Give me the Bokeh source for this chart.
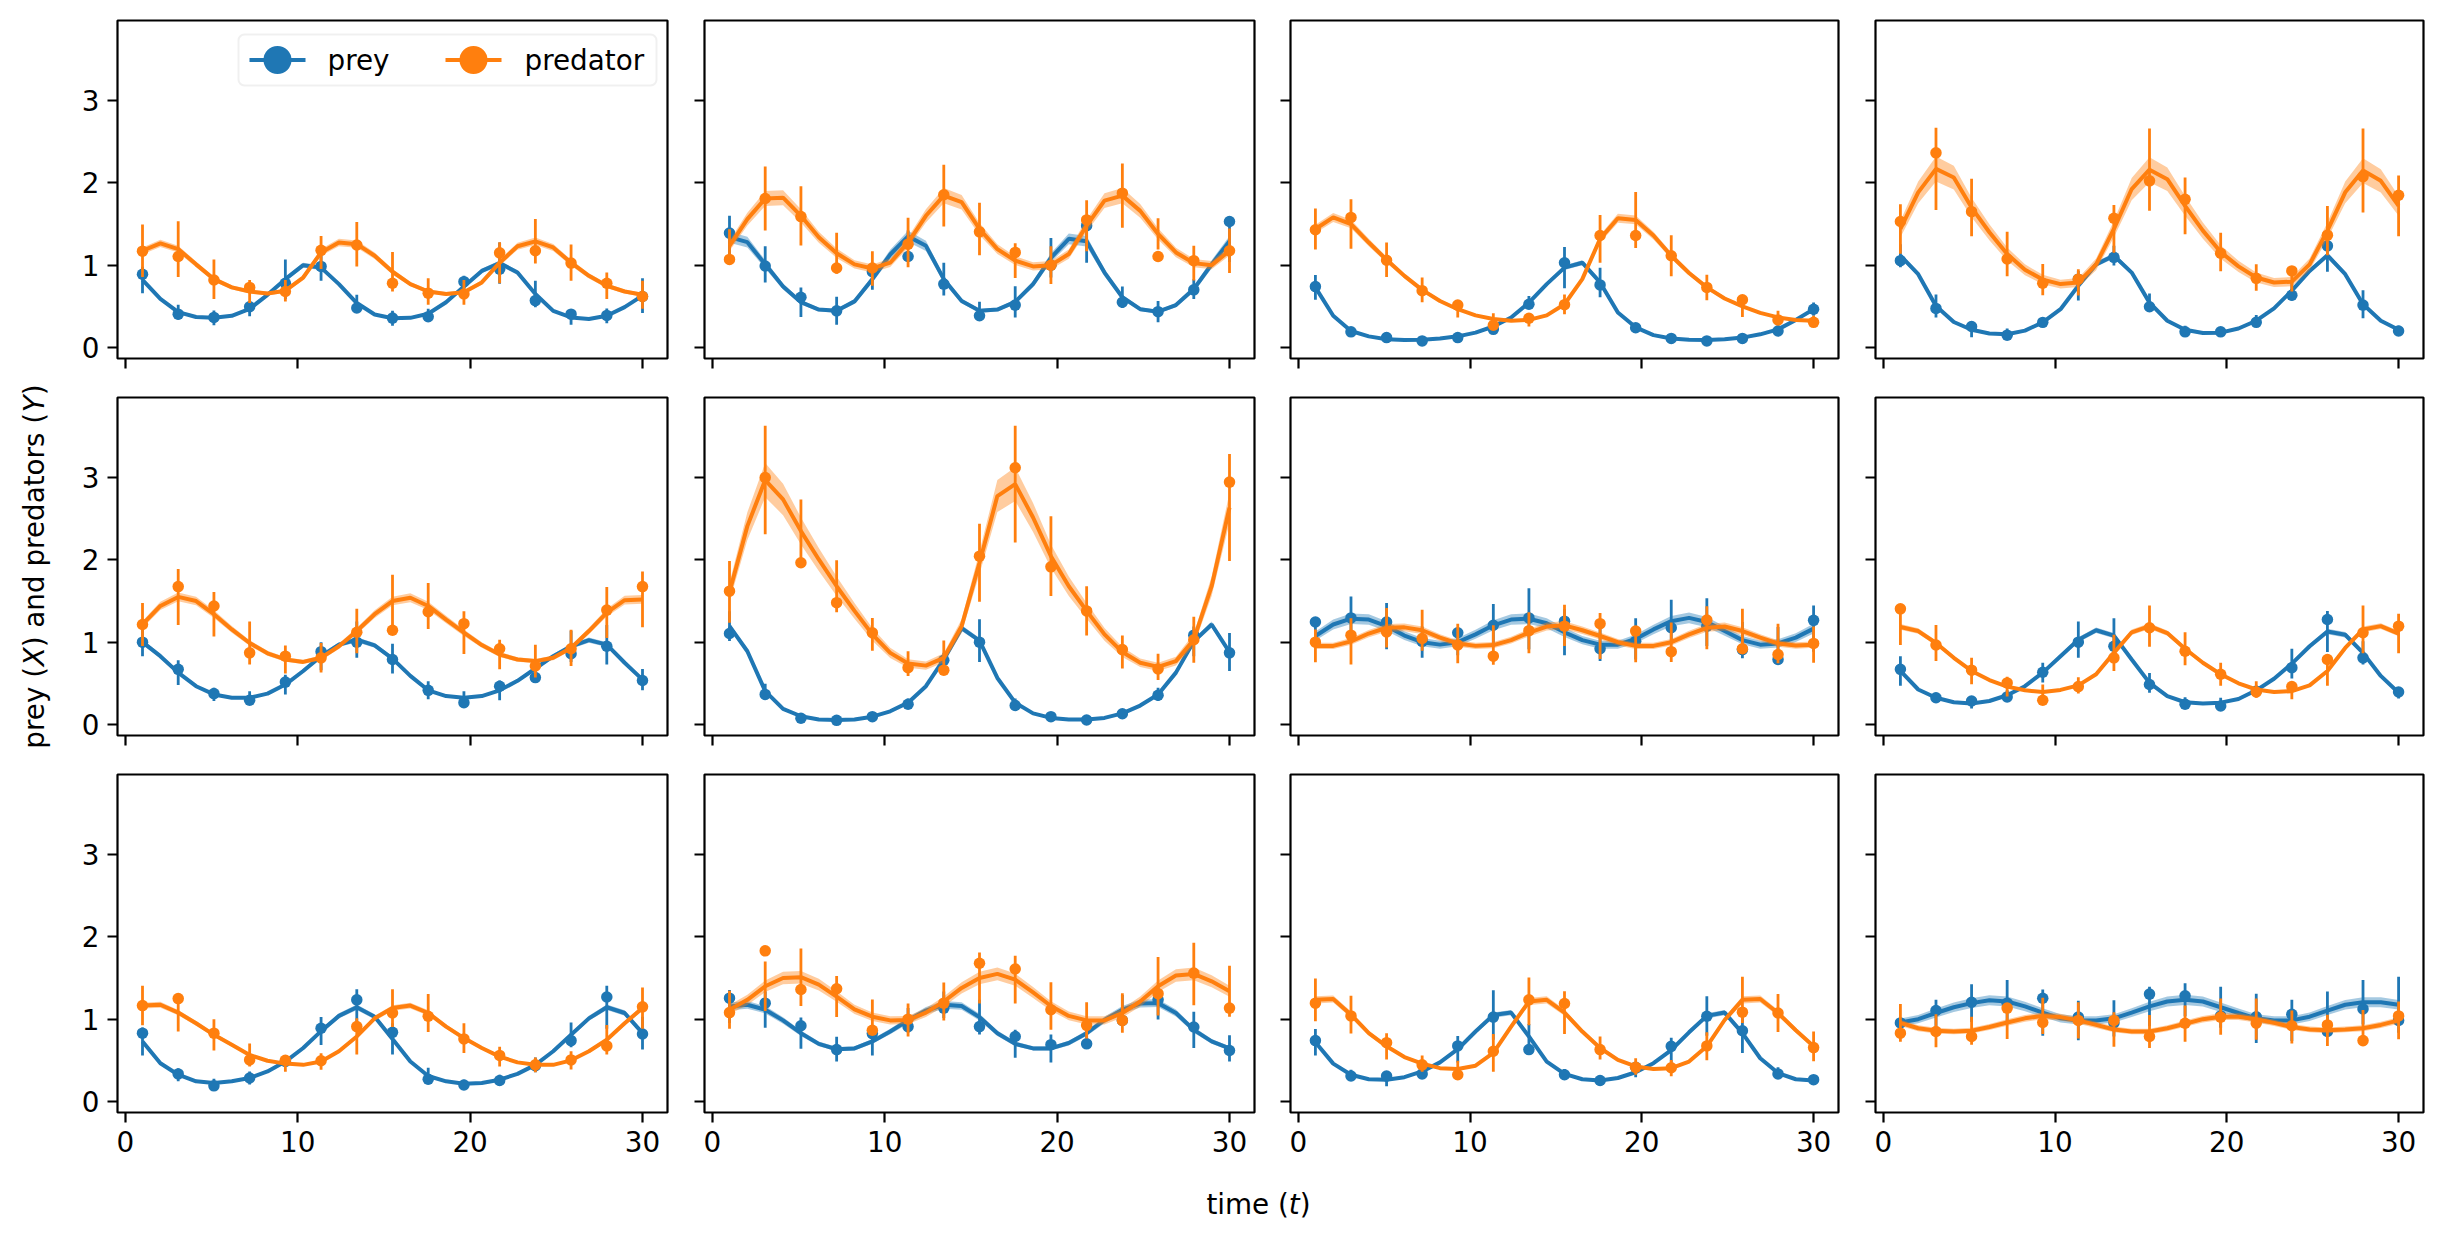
import math
from bokeh.plotting import figure
from bokeh.layouts import gridplot, row, column
from bokeh.models import Range1d, FixedTicker, BoxAnnotation, CustomLabelingPolicy
from bokeh.core.properties import value
from bokeh.embed import file_html
from bokeh.resources import INLINE

BLUE = "#1f77b4"
ORANGE = "#ff7f0e"
FONT = "DejaVu Sans"
FS = "27.8px"

# time grid of the fitted trajectories; observations sit on every other point
t_fit = [1.0, 2.036, 3.071, 4.107, 5.143, 6.179, 7.214, 8.25, 9.286, 10.321,
         11.357, 12.393, 13.429, 14.464, 15.5, 16.536, 17.571, 18.607, 19.643,
         20.679, 21.714, 22.75, 23.786, 24.821, 25.857, 26.893, 27.929, 28.964, 30.0]
t_obs = t_fit[::2]

x_ticks = [0, 10, 20, 30]
y_ticks = [0, 1, 2, 3]

# posterior mean trajectories (prey X), one list per panel
prey_fit = [
    [0.82, 0.59, 0.43, 0.37, 0.36, 0.385, 0.47, 0.64, 0.83, 1.00, 0.97, 0.77, 0.54, 0.40, 0.355, 0.36, 0.41, 0.55, 0.74, 0.93, 1.025, 0.91, 0.65, 0.445, 0.365, 0.345, 0.385, 0.49, 0.63],
    [1.34, 1.28, 1.01, 0.74, 0.55, 0.46, 0.445, 0.56, 0.83, 1.13, 1.35, 1.235, 0.83, 0.565, 0.445, 0.46, 0.555, 0.77, 1.09, 1.32, 1.29, 0.91, 0.61, 0.465, 0.435, 0.515, 0.71, 1.01, 1.29],
    [0.73, 0.385, 0.20, 0.135, 0.10, 0.09, 0.095, 0.11, 0.135, 0.18, 0.255, 0.365, 0.545, 0.77, 0.97, 1.03, 0.79, 0.425, 0.245, 0.15, 0.11, 0.095, 0.09, 0.10, 0.12, 0.16, 0.22, 0.335, 0.465],
    [1.115, 0.89, 0.505, 0.31, 0.215, 0.17, 0.16, 0.205, 0.305, 0.465, 0.75, 1.01, 1.115, 0.91, 0.545, 0.325, 0.215, 0.175, 0.18, 0.23, 0.325, 0.475, 0.69, 0.93, 1.12, 0.89, 0.525, 0.325, 0.215],
    [1.00, 0.83, 0.63, 0.465, 0.365, 0.325, 0.325, 0.375, 0.485, 0.65, 0.83, 0.97, 1.03, 0.96, 0.80, 0.59, 0.415, 0.345, 0.325, 0.345, 0.415, 0.53, 0.68, 0.83, 0.95, 1.025, 0.97, 0.75, 0.545],
    [1.195, 0.89, 0.405, 0.19, 0.10, 0.06, 0.055, 0.06, 0.095, 0.16, 0.265, 0.465, 0.79, 1.17, 1.02, 0.565, 0.265, 0.135, 0.08, 0.06, 0.06, 0.08, 0.135, 0.23, 0.365, 0.63, 1.01, 1.215, 0.88],
    [1.075, 1.215, 1.285, 1.275, 1.195, 1.08, 1.00, 0.97, 1.00, 1.095, 1.205, 1.275, 1.285, 1.23, 1.12, 1.025, 0.97, 0.97, 1.04, 1.155, 1.255, 1.295, 1.245, 1.135, 1.025, 0.97, 0.985, 1.055, 1.165],
    [0.65, 0.425, 0.325, 0.27, 0.255, 0.285, 0.355, 0.465, 0.63, 0.83, 1.03, 1.145, 1.08, 0.79, 0.505, 0.345, 0.27, 0.255, 0.265, 0.31, 0.415, 0.555, 0.74, 0.95, 1.13, 1.09, 0.87, 0.59, 0.385],
    [0.73, 0.465, 0.325, 0.245, 0.225, 0.245, 0.285, 0.365, 0.485, 0.65, 0.855, 1.04, 1.145, 1.03, 0.76, 0.485, 0.31, 0.245, 0.215, 0.225, 0.265, 0.335, 0.445, 0.61, 0.81, 1.01, 1.145, 1.075, 0.83],
    [1.155, 1.175, 1.115, 0.985, 0.83, 0.70, 0.635, 0.645, 0.73, 0.85, 0.985, 1.105, 1.175, 1.16, 1.025, 0.83, 0.70, 0.645, 0.645, 0.71, 0.83, 0.99, 1.115, 1.19, 1.195, 1.075, 0.87, 0.73, 0.645],
    [0.72, 0.46, 0.325, 0.27, 0.265, 0.295, 0.365, 0.475, 0.635, 0.85, 1.05, 1.08, 0.79, 0.485, 0.335, 0.27, 0.255, 0.285, 0.355, 0.465, 0.625, 0.84, 1.04, 1.08, 0.83, 0.525, 0.345, 0.27, 0.255],
    [0.96, 1.00, 1.075, 1.145, 1.195, 1.23, 1.215, 1.155, 1.08, 1.01, 0.985, 0.985, 1.01, 1.08, 1.155, 1.215, 1.235, 1.215, 1.145, 1.075, 1.01, 0.985, 0.985, 1.03, 1.105, 1.175, 1.205, 1.205, 1.175],
]

# posterior mean trajectories (predators Y)
pred_fit = [
    [1.175, 1.265, 1.195, 1.01, 0.83, 0.73, 0.68, 0.655, 0.69, 0.85, 1.155, 1.275, 1.255, 1.115, 0.92, 0.77, 0.68, 0.65, 0.67, 0.79, 1.03, 1.23, 1.29, 1.215, 1.03, 0.87, 0.75, 0.68, 0.64],
    [1.235, 1.56, 1.81, 1.82, 1.60, 1.34, 1.145, 1.01, 0.96, 1.03, 1.275, 1.60, 1.845, 1.765, 1.44, 1.195, 1.055, 0.985, 1.00, 1.135, 1.48, 1.785, 1.845, 1.66, 1.38, 1.155, 1.025, 1.00, 1.175],
    [1.44, 1.58, 1.50, 1.275, 1.065, 0.87, 0.70, 0.565, 0.465, 0.39, 0.345, 0.325, 0.335, 0.39, 0.525, 0.83, 1.32, 1.57, 1.55, 1.36, 1.115, 0.905, 0.73, 0.595, 0.50, 0.42, 0.365, 0.335, 0.325],
    [1.44, 1.885, 2.17, 2.065, 1.70, 1.40, 1.135, 0.945, 0.825, 0.77, 0.79, 1.01, 1.44, 1.925, 2.16, 2.045, 1.72, 1.42, 1.16, 0.985, 0.85, 0.79, 0.80, 1.01, 1.42, 1.885, 2.15, 2.025, 1.72],
    [1.215, 1.44, 1.55, 1.50, 1.34, 1.155, 0.99, 0.865, 0.79, 0.76, 0.81, 0.95, 1.135, 1.34, 1.50, 1.54, 1.44, 1.275, 1.115, 0.965, 0.85, 0.79, 0.77, 0.81, 0.93, 1.135, 1.36, 1.51, 1.52],
    [1.61, 2.41, 2.97, 2.735, 2.35, 2.005, 1.68, 1.38, 1.095, 0.87, 0.74, 0.715, 0.81, 1.195, 1.965, 2.775, 2.92, 2.515, 2.045, 1.68, 1.38, 1.095, 0.88, 0.75, 0.70, 0.77, 1.03, 1.68, 2.635],
    [0.955, 0.955, 1.01, 1.105, 1.175, 1.18, 1.145, 1.055, 0.985, 0.955, 0.965, 1.025, 1.115, 1.19, 1.205, 1.145, 1.075, 1.00, 0.955, 0.955, 1.00, 1.095, 1.175, 1.19, 1.135, 1.055, 0.985, 0.96, 0.97],
    [1.185, 1.135, 0.99, 0.81, 0.65, 0.54, 0.46, 0.415, 0.395, 0.42, 0.475, 0.61, 0.87, 1.12, 1.195, 1.11, 0.92, 0.75, 0.61, 0.50, 0.425, 0.395, 0.405, 0.475, 0.65, 0.93, 1.155, 1.195, 1.105],
    [1.165, 1.175, 1.08, 0.95, 0.81, 0.69, 0.565, 0.495, 0.46, 0.445, 0.485, 0.61, 0.79, 1.01, 1.135, 1.165, 1.075, 0.91, 0.77, 0.65, 0.545, 0.475, 0.445, 0.445, 0.50, 0.61, 0.75, 0.95, 1.135],
    [1.115, 1.235, 1.40, 1.50, 1.51, 1.42, 1.275, 1.12, 1.03, 0.985, 0.99, 1.08, 1.215, 1.38, 1.50, 1.55, 1.48, 1.325, 1.16, 1.04, 0.985, 0.985, 1.075, 1.215, 1.40, 1.53, 1.55, 1.46, 1.34],
    [1.235, 1.245, 1.055, 0.83, 0.67, 0.54, 0.46, 0.405, 0.395, 0.435, 0.59, 0.91, 1.215, 1.235, 1.08, 0.85, 0.65, 0.505, 0.425, 0.395, 0.405, 0.485, 0.67, 0.99, 1.235, 1.245, 1.075, 0.865, 0.67],
    [0.955, 0.89, 0.86, 0.85, 0.86, 0.905, 0.96, 1.01, 1.04, 1.025, 0.985, 0.93, 0.875, 0.85, 0.85, 0.89, 0.945, 1.00, 1.03, 1.03, 1.00, 0.955, 0.905, 0.875, 0.865, 0.875, 0.89, 0.93, 0.985],
]

# noisy observations
prey_obs = [
    [0.89, 0.405, 0.365, 0.495, 0.78, 0.985, 0.48, 0.357, 0.373, 0.80, 0.95, 0.57, 0.405, 0.39, 0.62],
    [1.39, 0.99, 0.61, 0.445, 0.92, 1.105, 0.77, 0.385, 0.515, 1.00, 1.48, 0.55, 0.435, 0.70, 1.53],
    [0.74, 0.19, 0.12, 0.08, 0.12, 0.22, 0.525, 1.03, 0.76, 0.24, 0.11, 0.08, 0.11, 0.20, 0.465],
    [1.055, 0.475, 0.255, 0.15, 0.305, 0.83, 1.095, 0.495, 0.19, 0.19, 0.305, 0.635, 1.235, 0.515, 0.20],
    [1.00, 0.67, 0.375, 0.295, 0.515, 0.885, 1.00, 0.79, 0.415, 0.265, 0.465, 0.57, 0.86, 0.95, 0.535],
    [1.105, 0.365, 0.075, 0.05, 0.095, 0.245, 0.78, 1.00, 0.23, 0.095, 0.055, 0.13, 0.355, 1.085, 0.87],
    [1.245, 1.295, 1.245, 1.01, 1.115, 1.205, 1.295, 1.255, 0.92, 1.01, 1.175, 1.195, 0.91, 0.79, 1.265],
    [0.67, 0.325, 0.285, 0.335, 0.635, 1.00, 0.95, 0.485, 0.245, 0.225, 0.405, 0.69, 1.275, 0.81, 0.395],
    [0.83, 0.335, 0.19, 0.285, 0.485, 0.89, 1.235, 0.84, 0.27, 0.20, 0.255, 0.435, 0.74, 1.27, 0.82],
    [1.255, 1.195, 0.92, 0.63, 0.825, 0.91, 1.135, 0.91, 0.79, 0.69, 0.70, 0.985, 1.235, 0.905, 0.62],
    [0.74, 0.31, 0.31, 0.335, 0.675, 1.025, 0.63, 0.325, 0.255, 0.415, 0.67, 1.035, 0.86, 0.335, 0.265],
    [0.955, 1.105, 1.205, 1.195, 1.255, 1.025, 0.955, 1.305, 1.285, 1.04, 1.03, 1.06, 0.85, 1.125, 0.985],
]
pred_obs = [
    [1.17, 1.105, 0.82, 0.73, 0.68, 1.18, 1.245, 0.78, 0.66, 0.65, 1.15, 1.175, 1.025, 0.78, 0.62],
    [1.07, 1.81, 1.59, 0.965, 0.965, 1.255, 1.855, 1.405, 1.155, 1.00, 1.55, 1.875, 1.105, 1.055, 1.175],
    [1.43, 1.58, 1.06, 0.69, 0.515, 0.27, 0.355, 0.52, 1.36, 1.36, 1.115, 0.73, 0.58, 0.335, 0.305],
    [1.53, 2.365, 1.65, 1.075, 0.78, 0.83, 1.57, 2.025, 1.80, 1.145, 0.84, 0.93, 1.365, 2.075, 1.85],
    [1.215, 1.675, 1.44, 0.87, 0.83, 0.81, 1.12, 1.145, 1.37, 1.225, 0.92, 0.71, 0.92, 1.39, 1.675],
    [1.62, 3.00, 1.965, 1.48, 1.115, 0.69, 0.66, 2.045, 3.12, 1.915, 1.38, 0.91, 0.675, 1.03, 2.945],
    [1.00, 1.085, 1.125, 1.045, 0.965, 0.83, 1.14, 1.195, 1.225, 1.135, 0.885, 1.27, 0.92, 0.85, 0.985],
    [1.405, 0.965, 0.66, 0.505, 0.295, 0.46, 0.81, 1.175, 0.89, 0.61, 0.395, 0.46, 0.79, 1.115, 1.195],
    [1.165, 1.25, 0.83, 0.505, 0.50, 0.495, 0.91, 1.075, 1.035, 0.76, 0.56, 0.445, 0.505, 0.675, 1.15],
    [1.08, 1.83, 1.36, 1.37, 0.865, 1.00, 1.195, 1.68, 1.61, 1.115, 0.925, 0.985, 1.31, 1.56, 1.135],
    [1.195, 1.04, 0.715, 0.445, 0.325, 0.61, 1.235, 1.19, 0.63, 0.415, 0.41, 0.675, 1.085, 1.075, 0.655],
    [0.83, 0.85, 0.79, 1.135, 0.96, 0.985, 0.985, 0.79, 0.95, 1.025, 0.95, 0.92, 0.93, 0.74, 1.04],
]

# half-widths of the predictive intervals at the observation times
prey_err = [
    [0.16, 0.09, 0.09, 0.09, 0.24, 0.16, 0.10, 0.09, 0.06, 0.13, 0.25, 0.16, 0.09, 0.09, 0.21],
    [0.26, 0.22, 0.18, 0.17, 0.13, 0.07, 0.20, 0.11, 0.19, 0.24, 0.26, 0.13, 0.13, 0.12, 0.25],
    [0.15, 0.05, 0.04, 0.04, 0.04, 0.05, 0.08, 0.25, 0.18, 0.05, 0.04, 0.04, 0.04, 0.05, 0.08],
    [0.14, 0.14, 0.09, 0.07, 0.06, 0.18, 0.12, 0.11, 0.05, 0.05, 0.07, 0.12, 0.20, 0.17, 0.05],
    [0.17, 0.15, 0.08, 0.08, 0.12, 0.17, 0.22, 0.18, 0.11, 0.08, 0.12, 0.10, 0.19, 0.24, 0.13],
    [0.18, 0.09, 0.04, 0.03, 0.03, 0.05, 0.08, 0.26, 0.05, 0.03, 0.03, 0.04, 0.08, 0.18, 0.23],
    [0.12, 0.27, 0.28, 0.19, 0.16, 0.26, 0.37, 0.28, 0.20, 0.25, 0.26, 0.29, 0.22, 0.20, 0.28],
    [0.18, 0.06, 0.06, 0.06, 0.12, 0.22, 0.21, 0.12, 0.06, 0.06, 0.06, 0.18, 0.25, 0.14, 0.07],
    [0.17, 0.08, 0.05, 0.08, 0.06, 0.17, 0.22, 0.19, 0.10, 0.05, 0.06, 0.09, 0.15, 0.26, 0.20],
    [0.20, 0.22, 0.19, 0.15, 0.17, 0.15, 0.16, 0.21, 0.17, 0.17, 0.10, 0.18, 0.20, 0.22, 0.16],
    [0.16, 0.06, 0.08, 0.06, 0.16, 0.30, 0.15, 0.06, 0.06, 0.06, 0.15, 0.24, 0.24, 0.07, 0.05],
    [0.06, 0.16, 0.23, 0.26, 0.28, 0.24, 0.22, 0.24, 0.20, 0.25, 0.30, 0.25, 0.23, 0.27, 0.34],
]
pred_err = [
    [0.32, 0.34, 0.24, 0.14, 0.13, 0.20, 0.27, 0.24, 0.16, 0.15, 0.25, 0.27, 0.22, 0.16, 0.17],
    [0.20, 0.39, 0.36, 0.25, 0.21, 0.30, 0.375, 0.32, 0.21, 0.23, 0.31, 0.39, 0.19, 0.21, 0.27],
    [0.25, 0.30, 0.21, 0.15, 0.10, 0.07, 0.08, 0.12, 0.29, 0.34, 0.25, 0.155, 0.13, 0.08, 0.06],
    [0.30, 0.50, 0.35, 0.27, 0.19, 0.16, 0.29, 0.50, 0.345, 0.235, 0.16, 0.12, 0.30, 0.51, 0.37],
    [0.26, 0.34, 0.27, 0.26, 0.17, 0.18, 0.27, 0.32, 0.28, 0.26, 0.18, 0.20, 0.22, 0.31, 0.34],
    [0.375, 0.66, 0.385, 0.315, 0.20, 0.15, 0.21, 0.475, 0.71, 0.485, 0.30, 0.20, 0.16, 0.28, 0.65],
    [0.20, 0.28, 0.24, 0.25, 0.24, 0.24, 0.25, 0.25, 0.28, 0.20, 0.24, 0.26, 0.27, 0.24, 0.22],
    [0.22, 0.22, 0.16, 0.12, 0.09, 0.10, 0.22, 0.25, 0.20, 0.14, 0.10, 0.10, 0.18, 0.29, 0.24],
    [0.24, 0.23, 0.19, 0.14, 0.10, 0.10, 0.22, 0.23, 0.23, 0.18, 0.12, 0.09, 0.11, 0.18, 0.25],
    [0.23, 0.30, 0.35, 0.25, 0.21, 0.20, 0.23, 0.31, 0.29, 0.29, 0.22, 0.24, 0.355, 0.38, 0.31],
    [0.26, 0.23, 0.16, 0.10, 0.10, 0.23, 0.29, 0.26, 0.14, 0.10, 0.10, 0.17, 0.28, 0.23, 0.18],
    [0.23, 0.20, 0.17, 0.20, 0.22, 0.22, 0.21, 0.20, 0.22, 0.22, 0.25, 0.20, 0.19, 0.22, 0.23],
]

# relative width of the credible band around each trajectory
prey_band = [0.03, 0.05, 0.03, 0.03, 0.03, 0.03, 0.05, 0.03, 0.03, 0.04, 0.03, 0.05]
pred_band = [0.035, 0.05, 0.035, 0.07, 0.035, 0.07, 0.04, 0.03, 0.03, 0.05, 0.035, 0.04]

series_names = ["prey", "predator"]

X0, X1 = -0.45, 31.45
Y0, Y1 = -0.134, 3.973

FRAME_H = 338
col_frame_w = [550, 550, 548, 548]
col_left = [47, 20, 20, 20]
col_right = [17, 16, 17, 19]
row_top = [20, 20, 20]
row_bottom = [19, 19, 60]

# inner panels keep their tick marks but show no tick labels
NO_LABELS = """
for (const i of indices) {
    indices.unset(i)
}
return indices
"""


def style_axis(ax, ticks, show_labels):
    ax.ticker = FixedTicker(ticks=ticks)
    ax.axis_line_color = None
    ax.major_tick_out = 10
    ax.major_tick_in = 0
    ax.minor_tick_out = 0
    ax.minor_tick_in = 0
    ax.major_tick_line_width = 2.2
    ax.major_tick_line_color = "black"
    ax.major_label_text_font = FONT
    ax.major_label_text_color = "black"
    if show_labels:
        ax.major_label_text_font_size = FS
        ax.major_label_standoff = 8
    else:
        ax.major_label_text_font_size = "0px"
        ax.major_label_standoff = 0
        ax.major_label_policy = CustomLabelingPolicy(code=NO_LABELS)


def draw_series(p, fit, obs, err, rel, color):
    lo = [v * (1 - rel) for v in fit]
    hi = [v * (1 + rel) for v in fit]
    p.varea(x=t_fit, y1=lo, y2=hi, fill_color=color, fill_alpha=0.4)
    p.line(t_fit, fit, line_color=color, line_width=4)
    centers = fit[::2]
    p.segment(x0=t_obs, y0=[c - e for c, e in zip(centers, err)],
              x1=t_obs, y1=[c + e for c, e in zip(centers, err)],
              line_color=color, line_width=2.8)
    p.scatter(t_obs, obs, size=11.5, fill_color=color, line_color=color, line_width=0)


def add_legend(p, frame_w):
    # legend laid out in pixels from the frame's top-left corner
    sx = (X1 - X0) / frame_w
    sy = (Y1 - Y0) / FRAME_H
    X = lambda px: X0 + px * sx
    Y = lambda py: Y1 - py * sy
    p.add_layout(BoxAnnotation(left=X(121), right=X(539), top=Y(14), bottom=Y(65),
                               fill_color="white", fill_alpha=0.8,
                               line_color="#cccccc", line_width=2,
                               border_radius=6, level="underlay"))
    yc = Y(39.5)
    for (h0, h1, tx), color, name in zip([(132, 188, 210), (328, 384, 407)],
                                         [BLUE, ORANGE], series_names):
        p.line([X(h0), X(h1)], [yc, yc], line_color=color, line_width=4)
        p.scatter([X((h0 + h1) / 2)], [yc], size=28, fill_color=color,
                  line_color=color, line_width=0)
        p.text([X(tx)], [yc], text=[name], text_font=value(FONT),
               text_font_size=FS, text_baseline="middle", text_align="left",
               text_color="black")


figs = []
for i in range(12):
    r, c = divmod(i, 4)
    w = col_left[c] + col_frame_w[c] + col_right[c]
    h = row_top[r] + FRAME_H + row_bottom[r]
    p = figure(width=w, height=h, x_range=Range1d(X0, X1), y_range=Range1d(Y0, Y1),
               output_backend="svg", toolbar_location=None,
               min_border_left=col_left[c], min_border_right=col_right[c],
               min_border_top=row_top[r], min_border_bottom=row_bottom[r])
    p.xgrid.visible = False
    p.ygrid.visible = False
    p.outline_line_color = "black"
    p.outline_line_width = 2.2
    p.outline_line_alpha = 1.0
    p.background_fill_color = "white"
    p.border_fill_color = "white"
    style_axis(p.xaxis[0], x_ticks, r == 2)
    style_axis(p.yaxis[0], y_ticks, c == 0)

    draw_series(p, prey_fit[i], prey_obs[i], prey_err[i], prey_band[i], BLUE)
    draw_series(p, pred_fit[i], pred_obs[i], pred_err[i], pred_band[i], ORANGE)
    if i == 0:
        add_legend(p, col_frame_w[0])
    figs.append(p)

grid = gridplot(figs, ncols=4, toolbar_location=None)


def blank(w, h):
    f = figure(width=w, height=h, x_range=Range1d(0, w), y_range=Range1d(0, h),
               output_backend="svg", toolbar_location=None, min_border=0,
               x_axis_type=None, y_axis_type=None)
    f.grid.visible = False
    f.outline_line_color = None
    f.background_fill_color = "white"
    f.border_fill_color = "white"
    return f


def place_pieces(f, pieces, start, fixed, vertical):
    # pieces: (text, italic, width in em); laid end to end
    em = 27.8
    pos = start
    for txt, italic, width in pieces:
        if vertical:
            xs, ys, ang = [fixed], [pos], math.pi / 2
        else:
            xs, ys, ang = [pos], [fixed], 0
        f.text(xs, ys, text=[txt], angle=ang, text_font=value(FONT),
               text_font_size=FS, text_align="left", text_baseline="middle",
               text_font_style="italic" if italic else "normal", text_color="black")
        pos += width * em


GRID_H = sum(row_top) + 3 * FRAME_H + sum(row_bottom)
LEFT_W = 70
left = blank(LEFT_W, GRID_H)
ylabel = [("prey (", False, 2.961), ("X", True, 0.684),
          (") and predators (", False, 8.460), ("Y", True, 0.611), (")", False, 0.390)]
ylen = sum(pc[2] for pc in ylabel) * 27.8
place_pieces(left, ylabel, GRID_H - 566 - ylen / 2, 34, True)

BOTTOM_H = 67
bottom = blank(2442, BOTTOM_H)
xlabel = [("time (", False, 2.967), ("t", True, 0.392), (")", False, 0.390)]
xlen = sum(pc[2] for pc in xlabel) * 27.8
place_pieces(bottom, xlabel, 1258 - xlen / 2, BOTTOM_H - 32, False)

layout = column(row(left, grid), bottom)

open("out.html", "w").write(file_html(layout, INLINE))
